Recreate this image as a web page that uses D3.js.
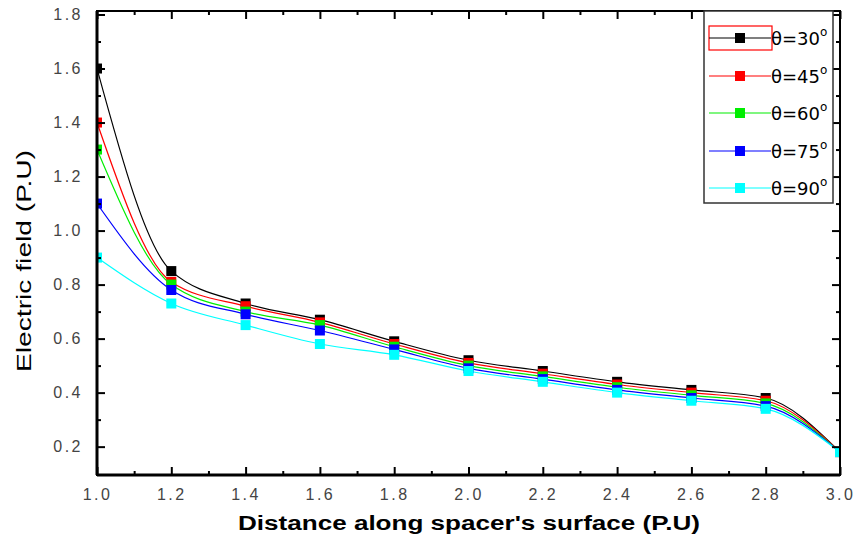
<!DOCTYPE html>
<html>
<head>
<meta charset="utf-8">
<script src="https://cdn.jsdelivr.net/npm/d3@7"></script>
<style>
  html, body { margin: 0; padding: 0; background: #fff; }
  svg { display: block; }
</style>
</head>
<body>
<svg id="chart" width="857" height="538"></svg>
<script>
// ---- data ----
const xValues = [1.0, 1.2, 1.4, 1.6, 1.8, 2.0, 2.2, 2.4, 2.6, 2.8, 3.0];
const seriesNames = ["θ=30", "θ=45", "θ=60", "θ=75", "θ=90"];
const seriesColors = ["#000000", "#ff0000", "#00ee00", "#0000ff", "#00ffff"];
const theta30 = [1.60, 0.85, 0.73, 0.67, 0.59, 0.52, 0.48, 0.44, 0.41, 0.38, 0.18];
const theta45 = [1.40, 0.81, 0.72, 0.66, 0.58, 0.51, 0.47, 0.43, 0.40, 0.37, 0.18];
const theta60 = [1.30, 0.80, 0.70, 0.65, 0.57, 0.50, 0.46, 0.42, 0.39, 0.36, 0.18];
const theta75 = [1.10, 0.78, 0.69, 0.63, 0.56, 0.49, 0.45, 0.41, 0.38, 0.35, 0.18];
const theta90 = [0.90, 0.73, 0.65, 0.58, 0.54, 0.48, 0.44, 0.40, 0.37, 0.34, 0.18];
const seriesValues = [theta30, theta45, theta60, theta75, theta90];
const xTicks = [1.0, 1.2, 1.4, 1.6, 1.8, 2.0, 2.2, 2.4, 2.6, 2.8, 3.0];
const yTicks = [0.2, 0.4, 0.6, 0.8, 1.0, 1.2, 1.4, 1.6, 1.8];
const xTitle = "Distance along spacer's surface (P.U)";
const yTitle = "Electric field (P.U)";

// ---- layout ----
const W = 857, H = 538;
const m = { left: 97, right: 17, top: 11, bottom: 63 };
const svg = d3.select("#chart");
const x = d3.scaleLinear().domain([1.0, 3.0]).range([m.left, W - m.right]);
const y = d3.scaleLinear().domain([0.095, 1.813]).range([H - m.bottom, m.top]);
const x0 = m.left, x1 = W - m.right, y0 = H - m.bottom, y1 = m.top;

svg.append("defs").append("clipPath").attr("id", "plotclip")
  .append("rect").attr("x", x0).attr("y", y1).attr("width", x1 - x0).attr("height", y0 - y1);

const plot = svg.append("g").attr("clip-path", "url(#plotclip)");

const line = d3.line()
  .x((d, i) => x(xValues[i]))
  .y(d => y(d))
  .curve(d3.curveMonotoneX);

seriesValues.forEach((vals, s) => {
  plot.append("path")
    .attr("d", line(vals))
    .attr("fill", "none")
    .attr("stroke", seriesColors[s])
    .attr("stroke-width", 1.2);
});
const ms = 10;
seriesValues.forEach((vals, s) => {
  plot.selectAll(null).data(vals).enter().append("rect")
    .attr("x", (d, i) => x(xValues[i]) - ms / 2)
    .attr("y", d => y(d) - ms / 2)
    .attr("width", ms).attr("height", ms)
    .attr("fill", seriesColors[s]);
});

// ---- axes (ticks inward on all four sides) ----
const xMinor = d3.range(1.1, 3.0, 0.2);
const yMinor = d3.range(0.3, 1.8, 0.2);
const tickFont = "'Liberation Sans', Arial, sans-serif";

const axB = d3.axisBottom(x).tickValues(xTicks).tickSize(-8).tickPadding(14).tickFormat(d3.format(".1f"));
const axT = d3.axisTop(x).tickValues(xTicks).tickSize(-8).tickFormat("");
const axL = d3.axisLeft(y).tickValues(yTicks).tickSize(-8).tickPadding(14).tickFormat(d3.format(".1f"));
const axR = d3.axisRight(y).tickValues(yTicks).tickSize(-8).tickFormat("");
const mB = d3.axisBottom(x).tickValues(xMinor).tickSize(-4).tickFormat("");
const mT = d3.axisTop(x).tickValues(xMinor).tickSize(-4).tickFormat("");
const mL = d3.axisLeft(y).tickValues(yMinor).tickSize(-4).tickFormat("");
const mR = d3.axisRight(y).tickValues(yMinor).tickSize(-4).tickFormat("");

function styleAxis(g) {
  g.select(".domain").remove();
  g.selectAll(".tick line").attr("stroke", "#000").attr("stroke-width", 2);
  g.selectAll(".tick text")
    .attr("font-family", tickFont).attr("font-size", 16)
    .attr("letter-spacing", "2.5px").attr("fill", "#444");
}
[[axB, `translate(0,${y0})`], [mB, `translate(0,${y0})`],
 [axT, `translate(0,${y1})`], [mT, `translate(0,${y1})`],
 [axL, `translate(${x0},0)`], [mL, `translate(${x0},0)`],
 [axR, `translate(${x1},0)`], [mR, `translate(${x1},0)`]].forEach(([a, t]) => {
  svg.append("g").attr("transform", t).call(a).call(styleAxis);
});

// frame
svg.append("rect").attr("x", x0).attr("y", y1).attr("width", x1 - x0).attr("height", y0 - y1)
  .attr("fill", "none").attr("stroke", "#000").attr("stroke-width", 2);
svg.append("line").attr("x1", x0).attr("x2", x0).attr("y1", y1).attr("y2", y0)
  .attr("stroke", "#000").attr("stroke-width", 3);
svg.append("line").attr("x1", x0).attr("x2", x1).attr("y1", y0).attr("y2", y0)
  .attr("stroke", "#000").attr("stroke-width", 3);

// ---- titles ----
svg.append("text")
  .attr("x", 238).attr("y", 530)
  .attr("font-family", tickFont).attr("font-weight", "bold").attr("font-size", 20)
  .attr("textLength", 462).attr("lengthAdjust", "spacingAndGlyphs")
  .text(xTitle);
svg.append("text")
  .attr("transform", "translate(31,372) rotate(-90)")
  .attr("font-family", tickFont).attr("font-size", 21)
  .attr("textLength", 222).attr("lengthAdjust", "spacingAndGlyphs")
  .text(yTitle);

// ---- legend ----
const lg = svg.append("g");
lg.append("rect").attr("x", 704).attr("y", y1).attr("width", 129).attr("height", 192)
  .attr("fill", "#fff").attr("stroke", "#333").attr("stroke-width", 1.5);
const rowY = [38, 76, 113, 151, 188];
seriesNames.forEach((name, s) => {
  const g = lg.append("g").attr("transform", `translate(0,${rowY[s]})`);
  if (s === 0) {
    g.append("rect").attr("x", 709).attr("y", -12).attr("width", 63).attr("height", 24)
      .attr("fill", "none").attr("stroke", "#ff0000").attr("stroke-width", 1.2);
  }
  g.append("line").attr("x1", 709).attr("x2", 771).attr("y1", 0).attr("y2", 0)
    .attr("stroke", seriesColors[s]).attr("stroke-width", 1.2);
  g.append("rect").attr("x", 735).attr("y", -5).attr("width", ms).attr("height", ms)
    .attr("fill", seriesColors[s]);
  const t = g.append("text").attr("x", 771).attr("y", 7)
    .attr("font-family", "'DejaVu Sans', sans-serif").attr("font-size", 18)
    .attr("fill", "#000");
  t.append("tspan").text(name);
  t.append("tspan").attr("dy", -9).attr("font-size", 12).text("o");
});
</script>
</body>
</html>
